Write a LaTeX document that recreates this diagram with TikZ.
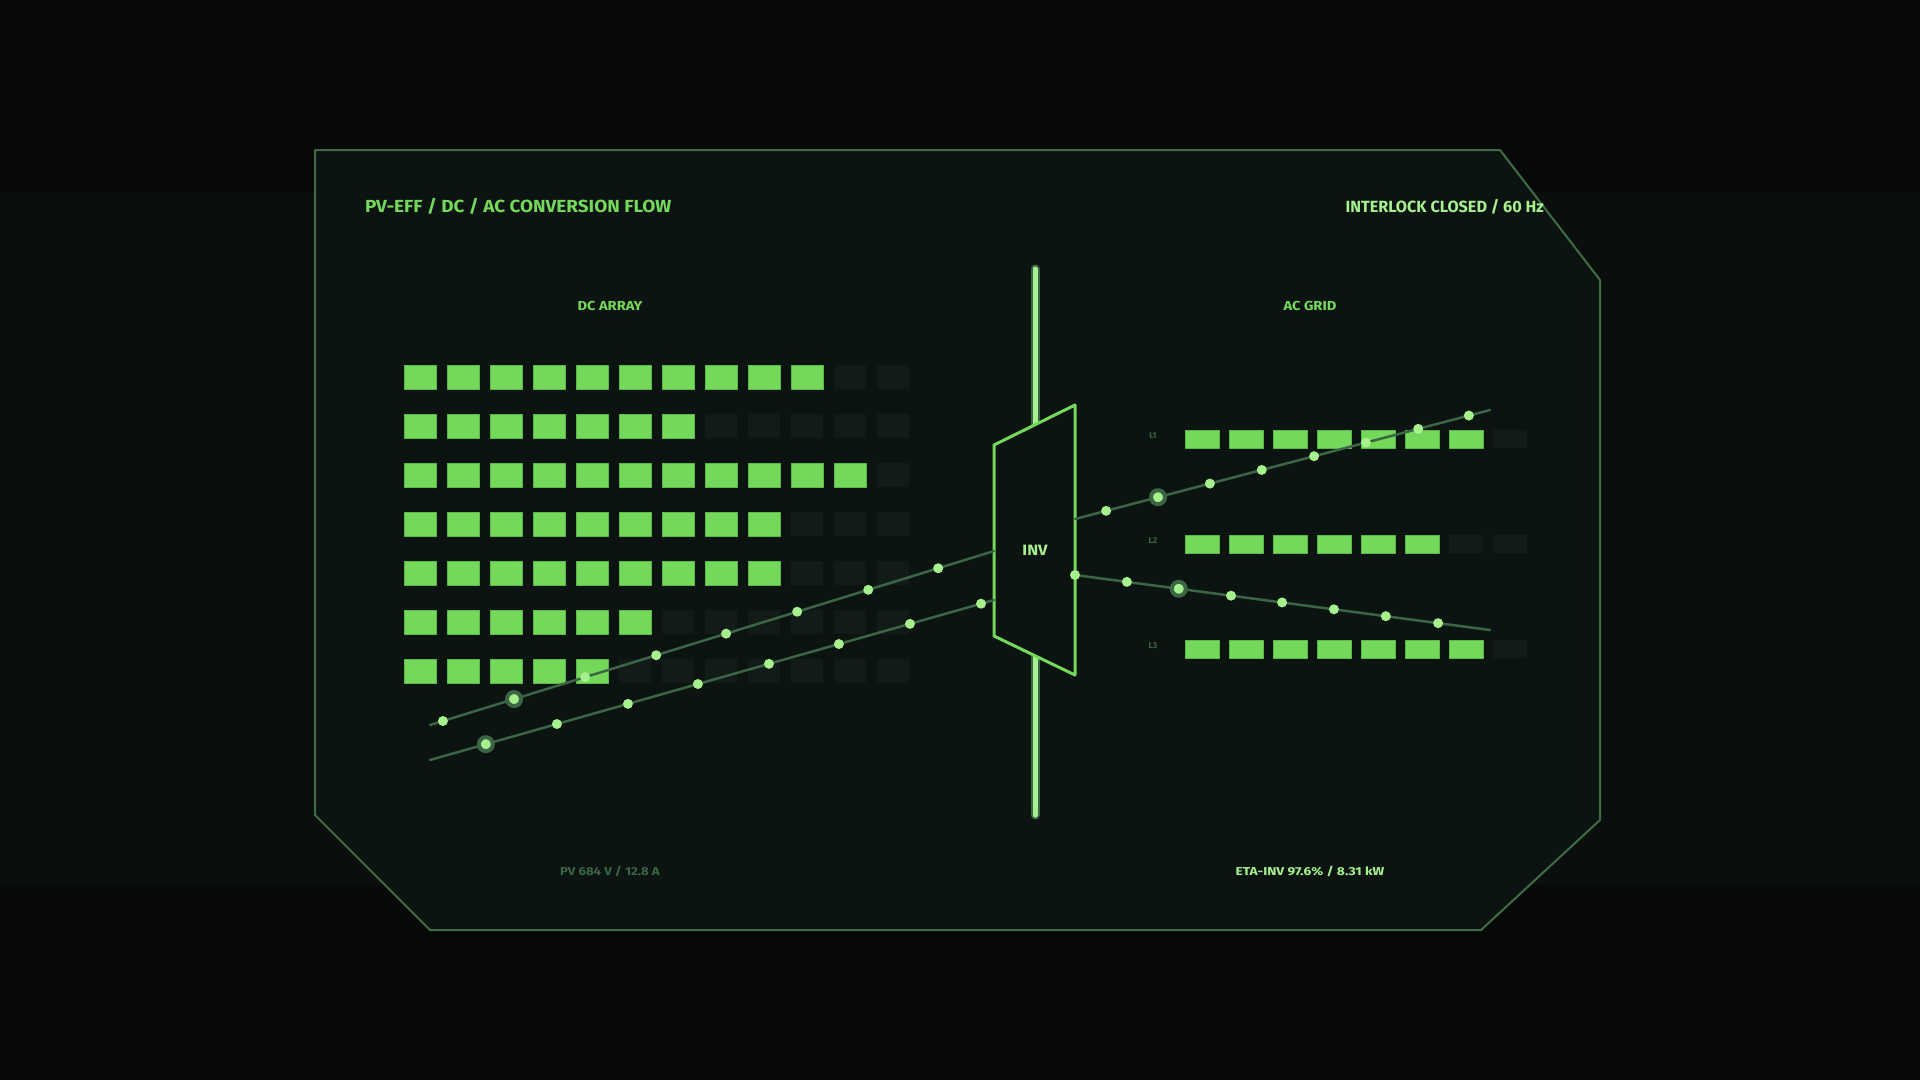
\documentclass[tikz,border=0pt]{standalone}
\usepackage{fontspec}
\setmainfont{Fira Sans}
\usetikzlibrary{calc}
\definecolor{bgdark}{HTML}{070908}
\definecolor{bgband}{HTML}{0A0E0C}
\definecolor{panelg}{HTML}{0C1411}
\definecolor{frameg}{HTML}{3F6B48}
\definecolor{litg}{HTML}{74D85A}
\definecolor{litedge}{HTML}{5CB947}
\definecolor{dimcell}{HTML}{111B17}
\definecolor{paleg}{HTML}{A6F08E}
\definecolor{wireg}{HTML}{3C6545}
\definecolor{labeldim}{HTML}{3F6248}

\begin{document}
\begin{tikzpicture}[x=1pt,y=-1pt,line cap=round,line join=round,
  litcell/.style={fill=litg,draw=litedge,line width=0.8pt},
  dimcell/.style={fill=dimcell},
  wire/.style={draw=wireg,line width=2.5pt},
  dot/.style={circle,fill=paleg,inner sep=0pt,minimum size=10pt},
  bigdot/.style={circle,fill=paleg,draw=wireg,line width=4pt,inner sep=0pt,minimum size=14pt},
  hud/.style={font=\fontsize{17.5}{20}\selectfont\bfseries\addfontfeature{FakeStretch=1.08},inner sep=0pt},
  sect/.style={font=\fontsize{13}{15}\selectfont\bfseries\addfontfeature{FakeStretch=1.13},inner sep=0pt,text=litg},
  foot/.style={font=\fontsize{11.5}{13}\selectfont\bfseries\addfontfeature{FakeStretch=#1},inner sep=0pt},
  foot/.default=1.15,
  phase/.style={font=\fontsize{8.5}{9}\selectfont\bfseries,inner sep=0pt,text=labeldim,anchor=base}]
\useasboundingbox (0,0) rectangle (1920,1080);
\fill [bgdark] (0,0) rectangle (1920,1080);
\fill [bgband] (0,192) rectangle (1920,885);
\draw [fill=panelg,draw=frameg,line width=2pt] (315,150) -- (1500,150) -- (1600,280) -- (1600,820) -- (1481,930) -- (430,930) -- (315,815) -- cycle;
\node [hud,text=litg,anchor=base west] (title) at (365,212) {PV-EFF / DC / AC CONVERSION FLOW};
\node [font=\fontsize{16.2}{19}\selectfont\bfseries,inner sep=0pt,text=paleg,anchor=base east] (status) at (1544,212) {INTERLOCK CLOSED / 60 Hz};
\node [sect,anchor=base] (dclabel) at (610,310) {DC ARRAY};
\node [sect,anchor=base] (aclabel) at (1310,310) {AC GRID};
\node [foot,text=wireg,anchor=base] (pvread) at (610,875) {PV 684 V / 12.8 A};
\node [foot=1.2,text=paleg,anchor=base] (etaread) at (1310,875) {ETA-INV 97.6\% / 8.31 kW};
\foreach \n [count=\r] in {10,7,11,9,9,6,5} {
  \foreach \c in {0,...,11}
    \fill [dimcell] (404+43*\c,316+49*\r) rectangle ++(32,24);
  \foreach \c in {1,...,\n}
    \draw [litcell] (361+43*\c,316+49*\r) rectangle ++(32,24);
}
\foreach \n/\y [count=\r] in {7/430,6/535,7/640} {
  \node [phase] (ph\r) at (1153,\y+8) {L\r};
  \foreach \c in {0,...,7}
    \fill [dimcell] (1185+44*\c,\y) rectangle ++(34,18);
  \foreach \c in {1,...,\n}
    \draw [litcell] (1141+44*\c,\y) rectangle ++(34,18);
}
\coordinate (bartop) at (1035,269);
\coordinate (barbot) at (1035,815);
\draw [wireg,line width=9pt] (bartop) -- (barbot);
\draw [paleg,line width=5pt] (bartop) -- (barbot);
\coordinate (invnw) at (994,445);
\coordinate (invne) at (1075,405);
\coordinate (invse) at (1075,675);
\coordinate (invsw) at (994,636);
\draw [fill=panelg,draw=litg,line width=3pt] (invnw) -- (invne) -- (invse) -- (invsw) -- cycle;
\node [font=\fontsize{15}{17}\selectfont\bfseries\addfontfeature{FakeStretch=1.1},text=paleg,inner sep=0pt] (inv) at (1035,550) {INV};
\coordinate (dca0) at (430,725);
\coordinate (dca1) at (994,551);
\coordinate (dcb0) at (430,760);
\coordinate (dcb1) at (994,600);
\coordinate (aca0) at (1075,519);
\coordinate (aca1) at (1490,410);
\coordinate (acb0) at (1075,575);
\coordinate (acb1) at (1490,630);
\draw [wire] (dca0) -- (dca1);
\draw [wire] (dcb0) -- (dcb1);
\draw [wire] (aca0) -- (aca1);
\draw [wire] (acb0) -- (acb1);
\foreach \t [count=\i] in {0.023,0.275,0.401,0.525,0.651,0.777,0.901}
  \node [dot] (dcadot\i) at ($(dca0)!\t!(dca1)$) {};
\node [bigdot] (dcabig) at ($(dca0)!0.149!(dca1)$) {};
\foreach \t [count=\i] in {0.225,0.351,0.475,0.601,0.725,0.851,0.977}
  \node [dot] (dcbdot\i) at ($(dcb0)!\t!(dcb1)$) {};
\node [bigdot] (dcbbig) at ($(dcb0)!0.099!(dcb1)$) {};
\foreach \t [count=\i] in {0.075,0.325,0.45,0.576,0.701,0.827,0.949}
  \node [dot] (acadot\i) at ($(aca0)!\t!(aca1)$) {};
\node [bigdot] (acabig) at ($(aca0)!0.2!(aca1)$) {};
\foreach \t [count=\i] in {0,0.125,0.376,0.499,0.624,0.749,0.875}
  \node [dot] (acbdot\i) at ($(acb0)!\t!(acb1)$) {};
\node [bigdot] (acbbig) at ($(acb0)!0.25!(acb1)$) {};
\end{tikzpicture}
\end{document}
